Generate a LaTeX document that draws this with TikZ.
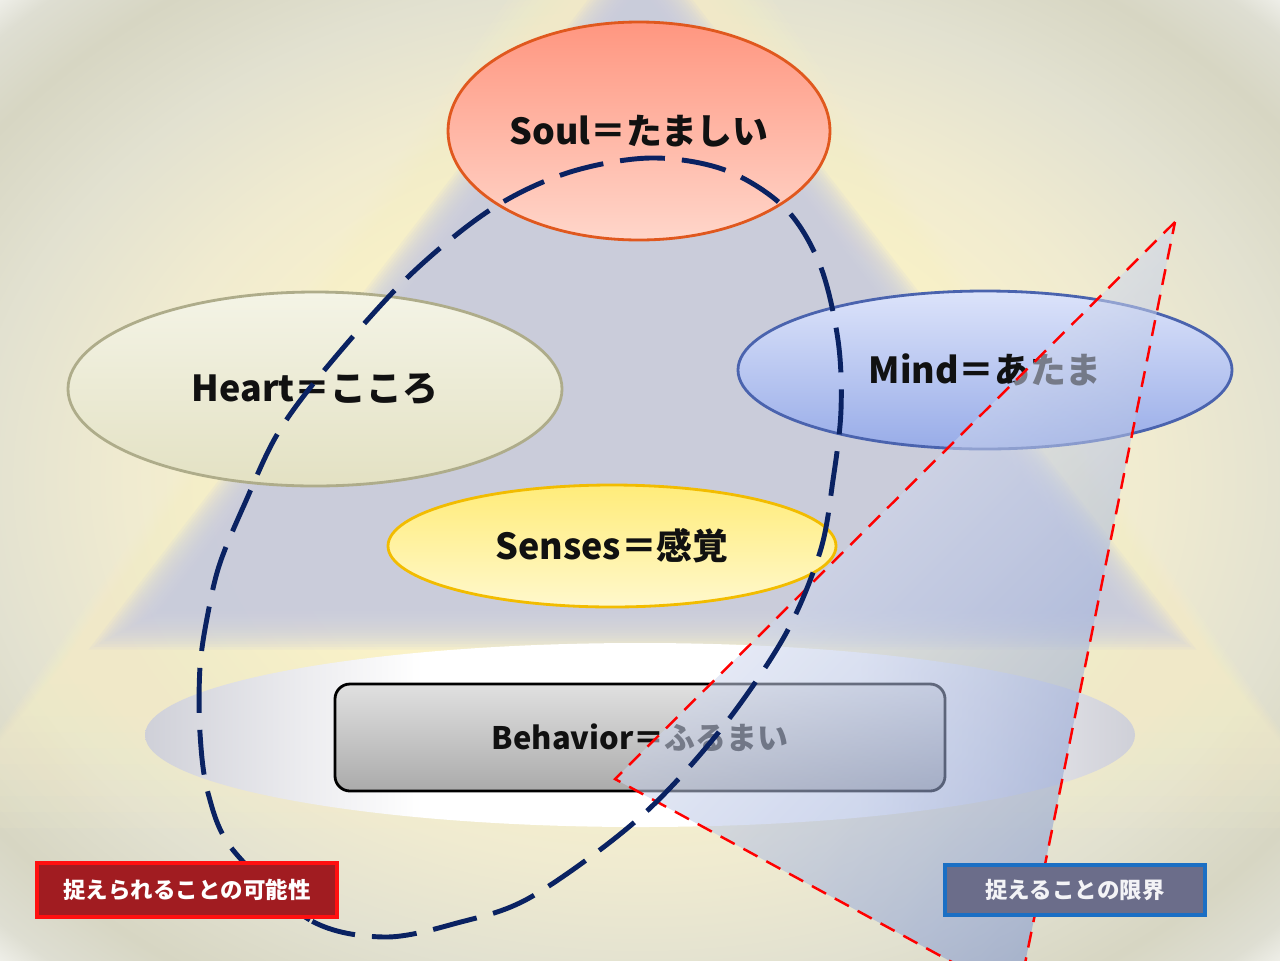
\documentclass[tikz,border=0pt]{standalone}
\usepackage{fontspec}
\newfontfamily\jpfont{Noto Sans CJK JP}
\usetikzlibrary{shapes.geometric}
\definecolor{bgA}{HTML}{FAF2CC}
\definecolor{bgB}{HTML}{F0EBD0}
\definecolor{bgC}{HTML}{E2E1D0}
\definecolor{bgD}{HTML}{D7D6C3}
\definecolor{bgE}{HTML}{DEDED2}
\definecolor{bgF}{HTML}{F6F6F2}
\definecolor{glowY}{HTML}{FBF3C8}
\definecolor{coneC}{HTML}{C9CCE0}
\definecolor{haloG}{HTML}{CFD0D8}
\definecolor{haloM}{HTML}{ECECEF}
\definecolor{soulT}{HTML}{FF9680}
\definecolor{soulB}{HTML}{FFD6CA}
\definecolor{soulD}{HTML}{E0581E}
\definecolor{heartT}{HTML}{F4F4E6}
\definecolor{heartB}{HTML}{E3E1C3}
\definecolor{heartD}{HTML}{AEAC8A}
\definecolor{mindT}{HTML}{DCE3FA}
\definecolor{mindB}{HTML}{98ACE8}
\definecolor{mindD}{HTML}{4A63AE}
\definecolor{sensT}{HTML}{FFEC7A}
\definecolor{sensB}{HTML}{FFF8CC}
\definecolor{sensD}{HTML}{F2BC00}
\definecolor{behT}{HTML}{E0E0E0}
\definecolor{behB}{HTML}{ABABAB}
\definecolor{loopC}{HTML}{0A2262}
\definecolor{triB}{HTML}{7F95D0}
\definecolor{posF}{HTML}{A11C21}
\definecolor{posD}{HTML}{FF1010}
\definecolor{limF}{HTML}{6B6D8A}
\definecolor{limD}{HTML}{1B6FC4}
\definecolor{txtC}{HTML}{111111}
\pgfdeclareradialshading{bgshade}{\pgfpoint{0bp}{0bp}}{color(0bp)=(bgA); color(13bp)=(bgA); color(20bp)=(bgB); color(26bp)=(bgC); color(31bp)=(bgD); color(34bp)=(bgE); color(36bp)=(bgF); color(50bp)=(bgF)}
\pgfdeclarehorizontalshading{haloshade}{100bp}{color(0bp)=(haloG); color(25bp)=(haloG); color(33bp)=(haloM); color(39bp)=(white); color(61bp)=(white); color(67bp)=(haloM); color(75bp)=(haloG); color(100bp)=(haloG)}
\tikzset{
  oval/.style={ellipse, inner sep=0pt, line width=4pt, text=txtC,
    font=\jpfont\bfseries\fontsize{51}{60}\selectfont},
  tag/.style={rectangle, inner sep=0pt, line width=5.5pt,
    font=\jpfont\bfseries\fontsize{32}{38}\selectfont},
  loopline/.style={draw=loopC, line width=7pt, dash pattern=on 22.5mm off 8.5mm},
  redline/.style={draw=red, line width=3.5pt, dash pattern=on 8mm off 5mm}
}
\begin{document}
\begin{tikzpicture}[x=0.5mm,y=-0.5mm]
\useasboundingbox (0,0) rectangle (1280,960);
\clip (0,0) rectangle (1280,960);
% background
\shade[shading=bgshade] (0,0) rectangle (1280,960);
% soft yellow glow around the cone
\foreach \d in {130,120,...,10}
  \fill[glowY, opacity=0.09] (640,-60-\d) -- (100-1.3*\d,620+1.6*\d) -- (1180+1.3*\d,620+1.6*\d) -- cycle;
% soft cone
\foreach \d in {28,24,...,-28}
  \fill[coneC, opacity=0.15] (640,-40-\d) -- (125-1.3*\d,630+0.7*\d) -- (1160+1.3*\d,630+0.7*\d) -- cycle;
% halo
\shade[shading=haloshade] (640,735) ellipse [x radius=495, y radius=92];
% nodes
\node[oval, minimum width=191mm, minimum height=109mm, top color=soulT, bottom color=soulB, draw=soulD] (soul) at (639,131) {Soul＝たましい};
\node[oval, minimum width=247mm, minimum height=97mm, top color=heartT, bottom color=heartB, draw=heartD] (heart) at (315,389) {Heart＝こころ};
\node[oval, minimum width=247mm, minimum height=79mm, top color=mindT, bottom color=mindB, draw=mindD] (mind) at (985,370) {Mind＝あたま};
\node[oval, minimum width=224mm, minimum height=61mm, top color=sensT, bottom color=sensB, draw=sensD] (senses) at (612,546) {Senses＝感覚};
\node[rectangle, rounded corners=7.5mm, minimum width=305mm, minimum height=53.5mm, inner sep=0pt, line width=4pt, top color=behT, bottom color=behB, draw=black, text=txtC, font=\jpfont\bfseries\fontsize{44}{52}\selectfont] (behavior) at (640,737.5) {Behavior＝ふるまい};
% triangle of limits
\coordinate (ta) at (1175,222);
\coordinate (tb) at (615,779);
\coordinate (tc) at (1018,998);
\shade[top color=white, bottom color=triB, shading angle=45, fill opacity=0.55] (ta) -- (tb) -- (tc) -- cycle;
\draw[redline] (ta) -- (tb) -- (tc) -- cycle;
% dashed loop
\draw[loopline] plot[smooth cycle, tension=0.55] coordinates {
 (384,937) (310,920) (233,850) (208,793) (200,733) (200,667) (208,613) (220,563) (245,503) (278,433) (327,367) (408,277) (490,210) (567,173) (650,158) (725,170) (785,208) (820,265) (838,340) (841,410) (833,480) (820,552) (784,637) (718,733) (637,820) (531,897) (457,923)};
% labels
\node[tag, minimum width=150mm, minimum height=27mm, fill=posF, draw=posD, text=white] (possible) at (187,890) {捉えられることの可能性};
\node[tag, minimum width=130mm, minimum height=25mm, fill=limF, draw=limD, text=white!92!limF] (limit) at (1075,890) {捉えることの限界};
\end{tikzpicture}
\end{document}
